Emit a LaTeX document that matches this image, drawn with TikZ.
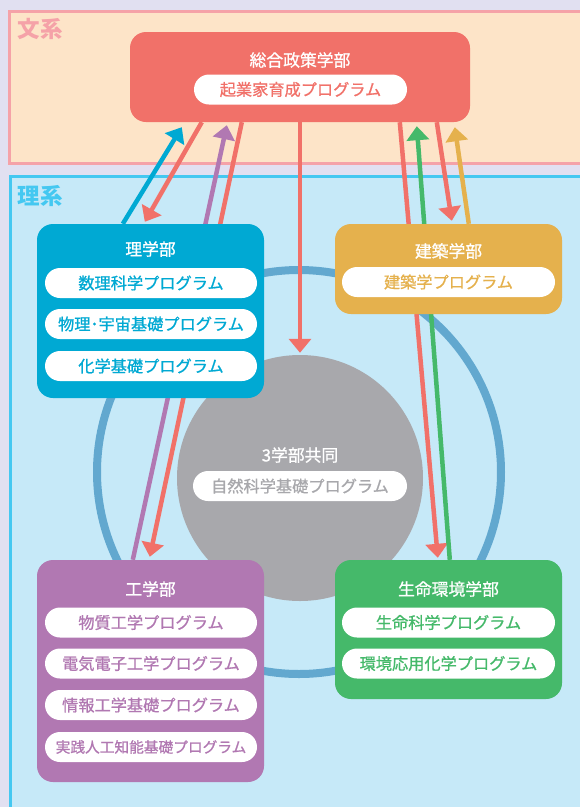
\documentclass[tikz,border=0pt]{standalone}
\usepackage{fontspec}
\setmainfont{Noto Sans CJK JP}
\newfontfamily\medfont{Noto Sans CJK JP}[FakeBold=0.9]
\usetikzlibrary{arrows.meta,calc}
\definecolor{bglav}{HTML}{E1E0F1}
\definecolor{bunfill}{HTML}{FDE4C8}
\definecolor{bunline}{HTML}{F5A2A8}
\definecolor{rifill}{HTML}{C6E9F8}
\definecolor{riline}{HTML}{44C8F1}
\definecolor{csogo}{HTML}{F17169}
\definecolor{crigaku}{HTML}{00A9D3}
\definecolor{cken}{HTML}{E5B14D}
\definecolor{ckou}{HTML}{B178B2}
\definecolor{csei}{HTML}{45B96A}
\definecolor{cgray}{HTML}{A8A8AC}
\definecolor{cring}{HTML}{62A8CF}
\pgfdeclarelayer{back}
\pgfdeclarelayer{mid}
\pgfsetlayers{back,mid,main}
\tikzset{
  facbox/.style={rounded corners=16pt, inner sep=0pt, draw=none},
  ftitle/.style={text=white, inner sep=0pt, font=\medfont\fontsize{16.8}{17}\selectfont},
  pill/.style={fill=white, rounded corners=15pt, minimum height=30pt, minimum width=212pt, inner sep=0pt, font=\medfont\fontsize{16.2}{16}\selectfont},
  arr/.style={line width=4.5pt, -{Triangle[width=22pt,length=14pt]}},
  area/.style={font=\fontsize{22.5}{23}\selectfont\bfseries, inner sep=0pt}
}
\begin{document}
\begin{tikzpicture}[x=1pt,y=-1pt]
\useasboundingbox (0,0) rectangle (580,807);
\clip (0,0) rectangle (580,807);
\begin{pgfonlayer}{back}
\fill[bglav] (0,0) rectangle (580,807);
\draw[bunline, fill=bunfill, line width=3pt] (9.5,11) rectangle (640,163.5);
\draw[riline, fill=rifill, line width=3pt] (10.5,176.5) rectangle (640,860);
\draw[cring, line width=8pt] (299,472) circle[radius=202];
\node[circle, fill=cgray, minimum size=246pt, inner sep=0pt] (circ) at (300,478) {};
\end{pgfonlayer}
\node[area, text=bunline] (bun) at (40,29) {文系};
\node[area, text=riline] (ri) at (40,196) {理系};
% faculty boxes
\node[facbox, fill=csogo, minimum width=340pt, minimum height=90pt] (sogo) at (300,77) {};
\node[ftitle] (sogot) at (300,60) {総合政策学部};
\node[pill, text=csogo, minimum width=213pt] (sogop) at (300.5,89.5) {起業家育成プログラム};
\node[facbox, fill=crigaku, minimum width=227pt, minimum height=174pt] (rig) at (150.5,311) {};
\node[ftitle] (rigt) at (150.5,249) {理学部};
\node[pill, text=crigaku] (rigp1) at (151,283) {数理科学プログラム};
\node[pill, text=crigaku] (rigp2) at (151,324) {物理･宇宙基礎プログラム};
\node[pill, text=crigaku] (rigp3) at (151,366) {化学基礎プログラム};
\node[facbox, fill=cken, minimum width=227pt, minimum height=90pt] (ken) at (448.5,269) {};
\node[ftitle] (kent) at (448.5,251) {建築学部};
\node[pill, text=cken, minimum width=213pt] (kenp) at (448.5,282) {建築学プログラム};
\node[facbox, fill=ckou, minimum width=227pt, minimum height=222pt] (kou) at (150.5,671) {};
\node[ftitle] (kout) at (150.5,589) {工学部};
\node[pill, text=ckou] (koup1) at (151,622.5) {物質工学プログラム};
\node[pill, text=ckou] (koup2) at (151,663.5) {電気電子工学プログラム};
\node[pill, text=ckou] (koup3) at (151,705) {情報工学基礎プログラム};
\node[pill, text=ckou, font=\medfont\fontsize{14.7}{15}\selectfont] (koup4) at (151,747) {実践人工知能基礎プログラム};
\node[facbox, fill=csei, minimum width=227pt, minimum height=139pt] (sei) at (448.5,629.5) {};
\node[ftitle] (seit) at (448.5,589) {生命環境学部};
\node[pill, text=csei, minimum width=213pt] (seip1) at (448.5,622.5) {生命科学プログラム};
\node[pill, text=csei, minimum width=213pt] (seip2) at (448.5,663.5) {環境応用化学プログラム};
\node[ftitle] (circt) at (300,455) {3学部共同};
\node[pill, text=cgray, minimum width=214pt] (circp) at (300,486) {自然科学基礎プログラム};
% connectors
\begin{pgfonlayer}{mid}
\draw[arr, crigaku] ($(rig.north west)+(86,0)$) -- ($(sogo.south west)+(52,5)$);
\draw[arr, csogo] ($(sogo.south west)+(72,0)$) -- ($(rig.north west)+(108,-2)$);
\draw[arr, ckou] ($(kou.north west)+(96,0)$) -- ($(sogo.south west)+(97,3)$);
\draw[arr, csogo] ($(sogo.south west)+(112,0)$) -- ($(kou.north west)+(113,-3)$);
\draw[arr, csogo] (sogo.south) -- ($(circ.north)+(0,-2)$);
\draw[arr, csogo] ($(sogo.south west)+(270,0)$) -- ($(sei.north west)+(103,-2)$);
\draw[arr, csei] ($(sei.north west)+(115,0)$) -- ($(sogo.south west)+(287,4)$);
\draw[arr, csogo] ($(sogo.south west)+(307,0)$) -- ($(ken.north west)+(117,-3)$);
\draw[arr, cken] ($(ken.north west)+(134,0)$) -- ($(sogo.south west)+(325,5)$);
\end{pgfonlayer}
\end{tikzpicture}
\end{document}
